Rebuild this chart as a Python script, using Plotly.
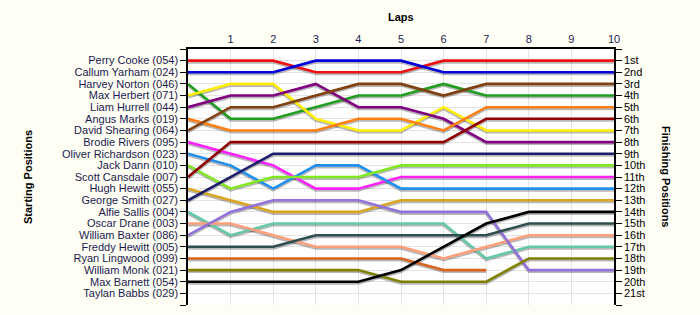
import plotly.graph_objects as go

laps = [0, 1, 2, 3, 4, 5, 6, 7, 8, 9, 10]
lap_labels = ["", "1", "2", "3", "4", "5", "6", "7", "8", "9", "10"]

drivers = [
    "Perry Cooke (054)", "Callum Yarham (024)", "Harvey Norton (046)", "Max Herbert (071)",
    "Liam Hurrell (044)", "Angus Marks (019)", "David Shearing (064)", "Brodie Rivers (095)",
    "Oliver Richardson (023)", "Jack Dann (010)", "Scott Cansdale (007)", "Hugh Hewitt (055)",
    "George Smith (027)", "Alfie Sallis (004)", "Oscar Drane (003)", "William Baxter (086)",
    "Freddy Hewitt (005)", "Ryan Lingwood (099)", "William Monk (021)", "Max Barnett (054)",
    "Taylan Babbs (029)",
]

finish_labels = ["1st", "2nd", "3rd", "4th", "5th", "6th", "7th", "8th", "9th", "10th",
                 "11th", "12th", "13th", "14th", "15th", "16th", "17th", "18th", "19th",
                 "20th", "21st"]

# position per lap (lap 0 = starting grid)
perry_cooke = [1, 1, 1, 2, 2, 2, 1, 1, 1, 1, 1]
callum_yarham = [2, 2, 2, 1, 1, 1, 2, 2, 2, 2, 2]
harvey_norton = [3, 6, 6, 5, 4, 4, 3, 4, 4, 4, 4]
max_herbert = [4, 3, 3, 6, 7, 7, 5, 7, 7, 7, 7]
liam_hurrell = [5, 4, 4, 3, 5, 5, 6, 8, 8, 8, 8]
angus_marks = [6, 7, 7, 7, 6, 6, 7, 5, 5, 5, 5]
david_shearing = [7, 5, 5, 4, 3, 3, 4, 3, 3, 3, 3]
brodie_rivers = [8, 9, 10, 12, 12, 11, 11, 11, 11, 11, 11]
oliver_richardson = [9, 10, 12, 10, 10, 12, 12, 12, 12, 12, 12]
jack_dann = [10, 12, 11, 11, 11, 10, 10, 10, 10, 10, 10]
scott_cansdale = [11, 8, 8, 8, 8, 8, 8, 6, 6, 6, 6]
hugh_hewitt = [12, 13, 14, 14, 14, 13, 13, 13, 13, 13, 13]
george_smith = [13, 11, 9, 9, 9, 9, 9, 9, 9, 9, 9]
alfie_sallis = [14, 16, 15, 15, 15, 15, 15, 18, 17, 17, 17]
oscar_drane = [15, 15, 16, 17, 17, 17, 18, 17, 16, 16, 16]
william_baxter = [16, 14, 13, 13, 13, 14, 14, 14, 19, 19, 19]
freddy_hewitt = [17, 17, 17, 16, 16, 16, 16, 16, 15, 15, 15]
ryan_lingwood = [18, 18, 18, 18, 18, 18, 19, 19, None, None, None]
william_monk = [19, 19, 19, 19, 19, 20, 20, 20, 18, 18, 18]
max_barnett = [20, 20, 20, 20, 20, 19, 17, 15, 14, 14, 14]

series = [perry_cooke, callum_yarham, harvey_norton, max_herbert, liam_hurrell, angus_marks,
          david_shearing, brodie_rivers, oliver_richardson, jack_dann, scott_cansdale,
          hugh_hewitt, george_smith, alfie_sallis, oscar_drane, william_baxter,
          freddy_hewitt, ryan_lingwood, william_monk, max_barnett]

colors = ["#ee1111", "#0000dd", "#1f9e1f", "#ffee00", "#800080", "#ff8010", "#804010",
          "#ff22ff", "#2090f0", "#80e820", "#900000", "#dba520", "#1c1c6c", "#66c8a8",
          "#ffa07a", "#9370db", "#2f4f4f", "#d8641e", "#808000", "#000000"]

n_pos = len(drivers)
pos_vals = list(range(0, n_pos + 2))
name_text = [""] + drivers + [""]
finish_text = [""] + finish_labels + [""]

font = "Liberation Sans, Arial, sans-serif"
fig = go.Figure()

# drop shadows (on base y axis, shifted slightly downward)
for s in series:
    fig.add_trace(go.Scatter(x=laps, y=s, mode="lines", yaxis="y",
                             line=dict(color="rgba(0,0,0,0.28)", width=3),
                             hoverinfo="skip", showlegend=False))

for s, c, name in zip(series, colors, drivers):
    fig.add_trace(go.Scatter(x=laps, y=s, mode="lines", yaxis="y2", name=name,
                             line=dict(color=c, width=2.6), showlegend=False))

# invisible trace to activate the right axis
fig.add_trace(go.Scatter(x=[0], y=[1], yaxis="y3", mode="markers",
                         marker=dict(opacity=0), hoverinfo="skip", showlegend=False))

shift = 0.13
fig.update_layout(
    width=700, height=315,
    margin=dict(l=188, r=86, t=49, b=10),
    paper_bgcolor="#fffef4",
    plot_bgcolor="#ffffff",
    font=dict(family=font, size=11, color="#000000"),
    xaxis=dict(range=[0, 10], side="top", tickvals=laps, ticktext=lap_labels,
               showgrid=True, gridcolor="#e4e4e4", gridwidth=1, zeroline=False,
               showline=True, linecolor="#000000", linewidth=1.5, ticks="",
               tickfont=dict(size=11, color="#1a1a50"), fixedrange=True),
    yaxis=dict(range=[n_pos + 1 - shift, -shift], visible=False, showgrid=False,
               zeroline=False, fixedrange=True),
    yaxis2=dict(range=[n_pos + 1, 0], overlaying="y", side="left",
                tickvals=pos_vals, ticktext=name_text, showgrid=True,
                gridcolor="#e4e4e4", gridwidth=1, zeroline=False, showline=True,
                linecolor="#000000", linewidth=1.5, ticks="outside", ticklen=6,
                tickcolor="#000000", tickfont=dict(size=11, color="#1a1a50"),
                fixedrange=True),
    yaxis3=dict(range=[n_pos + 1, 0], overlaying="y", side="right",
                tickvals=pos_vals, ticktext=finish_text, showgrid=False,
                zeroline=False, showline=True, linecolor="#000000", linewidth=1.5,
                ticks="outside", ticklen=6, tickcolor="#000000",
                tickfont=dict(size=11, color="#000000"), fixedrange=True),
    annotations=[
        dict(text="<b>Laps</b>", xref="paper", yref="paper", x=0.5, y=1.125,
             showarrow=False, font=dict(size=11, color="#000000"),
             xanchor="center", yanchor="middle"),
        dict(text="<b>Starting Positions</b>", xref="paper", yref="paper",
             x=-0.3756, y=0.5, textangle=-90, showarrow=False,
             font=dict(size=11, color="#000000"), xanchor="center", yanchor="middle"),
        dict(text="<b>Finishing Positions</b>", xref="paper", yref="paper",
             x=1.122, y=0.5, textangle=90, showarrow=False,
             font=dict(size=11, color="#000000"), xanchor="center", yanchor="middle"),
    ],
)

fig.write_html("out.html")
